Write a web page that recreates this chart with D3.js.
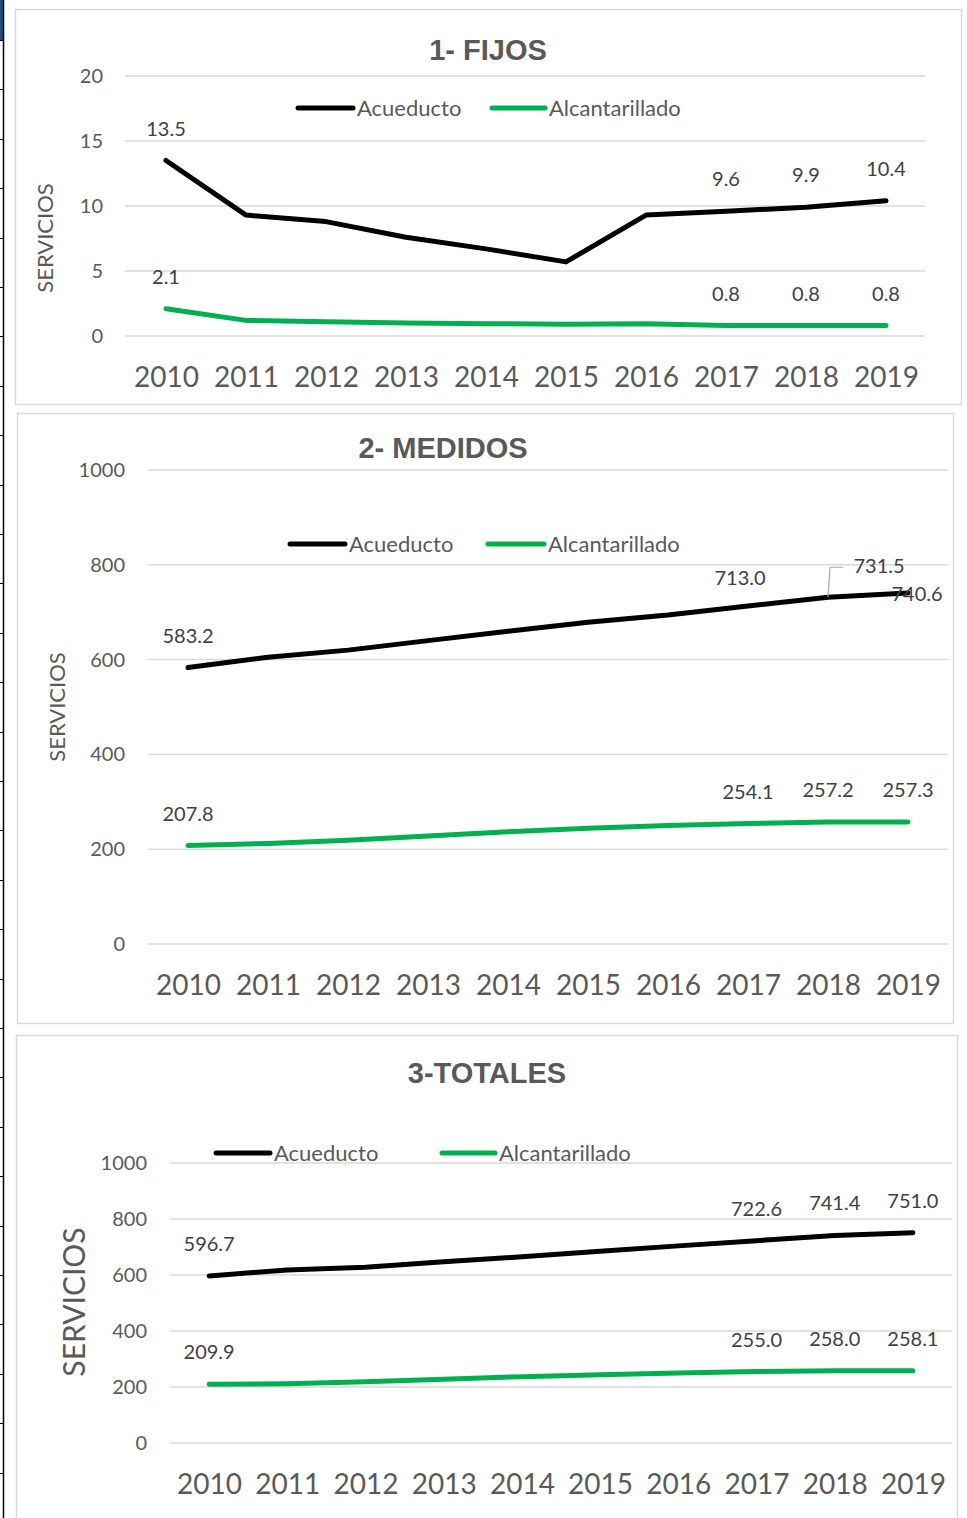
<!DOCTYPE html>
<html>
<head>
<meta charset="utf-8">
<script src="https://cdn.jsdelivr.net/npm/d3@7"></script>
<style>
  body { margin: 0; background: #fff; }
  svg { display: block; }
  text { font-family: Lato, "Noto Sans", sans-serif; }
  text.title { font-family: "Liberation Sans", Arial, sans-serif; font-weight: bold; }
</style>
</head>
<body>
<svg id="chart" width="967" height="1518"></svg>
<script>
// ---- data ----
var years = ['2010', '2011', '2012', '2013', '2014', '2015', '2016', '2017', '2018', '2019'];
var seriesNames = ['Acueducto', 'Alcantarillado'];
var seriesColors = ['#000000', '#00b050'];

var fijosAcueducto = [13.5, 9.3, 8.8, 7.6, 6.7, 5.7, 9.3, 9.6, 9.9, 10.4];
var fijosAlcantarillado = [2.1, 1.2, 1.1, 1.0, 0.95, 0.9, 0.95, 0.8, 0.8, 0.8];
var medidosAcueducto = [583.2, 605, 620, 640, 660, 679, 694, 713.0, 731.5, 740.6];
var medidosAlcantarillado = [207.8, 212, 219, 228, 237, 244, 250, 254.1, 257.2, 257.3];
var totalesAcueducto = [596.7, 618, 628, 647, 665, 685, 704, 722.6, 741.4, 751.0];
var totalesAlcantarillado = [209.9, 212, 219, 228, 237, 244, 250, 255.0, 258.0, 258.1];

var fijosTicks = [0, 5, 10, 15, 20];
var bigTicks = [0, 200, 400, 600, 800, 1000];
var labelled = [0, 7, 8, 9]; // points that carry a data label

var svg = d3.select('#chart');

// spreadsheet edge on the far left
svg.append('rect').attr('x', 0).attr('y', 0).attr('width', 3).attr('height', 40).attr('fill', '#1f4e79');
svg.append('line').attr('x1', 3.5).attr('x2', 3.5).attr('y1', 0).attr('y2', 1518)
    .attr('stroke', '#000').attr('stroke-width', 1.5);
d3.range(40, 1518, 49.4).forEach(function (y) {
    svg.append('line').attr('x1', 0).attr('x2', 3).attr('y1', Math.round(y) + 0.5).attr('y2', Math.round(y) + 0.5)
        .attr('stroke', '#000').attr('stroke-width', 1);
});

var panels = [
    {
        title: '1- FIJOS', titleX: 488, titleY: 60,
        box: [15, 9, 961, 404],
        xRange: [126, 926], gridX: [125, 925],
        yDomain: [0, 20], yRange: [336, 76], ticks: fijosTicks, tickX: 103,
        axisTitleX: 45, axisTitleY: 238, axisTitleSize: 22,
        legendY: 108, legend: [[298, 353], [492, 545]],
        series: [fijosAcueducto, fijosAlcantarillado]
    },
    {
        title: '2- MEDIDOS', titleX: 443, titleY: 458,
        box: [17, 413, 953, 1023],
        xRange: [148, 948], gridX: [148, 948],
        yDomain: [0, 1000], yRange: [944, 470], ticks: bigTicks, tickX: 125,
        axisTitleX: 57, axisTitleY: 707, axisTitleSize: 22,
        legendY: 544, legend: [[290, 345], [488, 544]],
        series: [medidosAcueducto, medidosAlcantarillado],
        // labels that Excel moved off the default spot
        special: {
            '0-7': { dx: -8, dy: -21 },
            '0-8': { dx: 51, dy: -24, leader: true },
            '0-9': { dx: 9, dy: 8 }
        }
    },
    {
        title: '3-TOTALES', titleX: 487, titleY: 1083,
        box: [16, 1035, 957, 1522],
        xRange: [170, 952], gridX: [170, 952],
        yDomain: [0, 1000], yRange: [1443, 1163], ticks: bigTicks, tickX: 147,
        axisTitleX: 74, axisTitleY: 1302, axisTitleSize: 30,
        legendY: 1153, legend: [[216, 270], [442, 495]],
        series: [totalesAcueducto, totalesAlcantarillado]
    }
];

var fmt = d3.format('.1f');

panels.forEach(function (p) {
    var g = svg.append('g');

    g.append('rect')
        .attr('x', p.box[0] + 0.5).attr('y', p.box[1] + 0.5)
        .attr('width', p.box[2] - p.box[0]).attr('height', p.box[3] - p.box[1])
        .attr('fill', '#fff').attr('stroke', '#d9d9d9').attr('stroke-width', 1.5);

    var x = d3.scalePoint().domain(years).range(p.xRange).padding(0.5);
    var y = d3.scaleLinear().domain(p.yDomain).range(p.yRange);

    // gridlines
    g.selectAll('.grid').data(p.ticks).enter().append('line')
        .attr('x1', p.gridX[0]).attr('x2', p.gridX[1])
        .attr('y1', function (d) { return y(d); }).attr('y2', function (d) { return y(d); })
        .attr('stroke', '#d9d9d9').attr('stroke-width', 1.5);

    // y axis labels
    var yAxis = d3.axisLeft(y).tickValues(p.ticks).tickFormat(d3.format('d')).tickSize(0).tickPadding(0);
    var ya = g.append('g').attr('transform', 'translate(' + p.tickX + ',0)').call(yAxis);
    ya.select('.domain').remove();
    ya.selectAll('text').attr('font-size', 20).attr('fill', '#595959')
        .attr('font-family', 'Lato, sans-serif');

    // x axis labels
    var xAxis = d3.axisBottom(x).tickSize(0).tickPadding(0);
    var xa = g.append('g').attr('transform', 'translate(0,' + (y(0) + 31) + ')').call(xAxis);
    xa.select('.domain').remove();
    xa.selectAll('text').attr('font-size', 28).attr('fill', '#595959')
        .attr('font-family', 'Lato, sans-serif');

    // title
    g.append('text').attr('class', 'title').text(p.title)
        .attr('x', p.titleX).attr('y', p.titleY)
        .attr('text-anchor', 'middle')
        .attr('font-size', 29).attr('fill', '#595959');

    // axis title
    g.append('text').text('SERVICIOS')
        .attr('transform', 'translate(' + p.axisTitleX + ',' + p.axisTitleY + ') rotate(-90)')
        .attr('text-anchor', 'middle').attr('dy', '0.35em')
        .attr('font-size', p.axisTitleSize).attr('fill', '#595959');

    // legend
    p.legend.forEach(function (seg, i) {
        g.append('line')
            .attr('x1', seg[0]).attr('x2', seg[1])
            .attr('y1', p.legendY).attr('y2', p.legendY)
            .attr('stroke', seriesColors[i]).attr('stroke-width', 5)
            .attr('stroke-linecap', 'round');
        g.append('text').text(seriesNames[i])
            .attr('x', seg[1] + 4).attr('y', p.legendY).attr('dy', '0.35em')
            .attr('font-size', 22).attr('fill', '#595959');
    });

    // lines
    var line = d3.line()
        .x(function (d, i) { return x(years[i]); })
        .y(function (d) { return y(d); });

    p.series.forEach(function (vals, si) {
        g.append('path').datum(vals)
            .attr('d', line)
            .attr('fill', 'none')
            .attr('stroke', seriesColors[si]).attr('stroke-width', 5)
            .attr('stroke-linejoin', 'round').attr('stroke-linecap', 'round');
    });

    // data labels
    p.series.forEach(function (vals, si) {
        labelled.forEach(function (i) {
            var px = x(years[i]);
            var py = y(vals[i]);
            var sp = p.special && p.special[si + '-' + i];
            var lx = px + (sp ? sp.dx : 0);
            var ly = py + (sp ? sp.dy : -25);
            if (sp && sp.leader) {
                g.append('polyline')
                    .attr('points', [[px, py], [px + 2, ly - 6], [px + 15, ly - 6]].join(' '))
                    .attr('fill', 'none').attr('stroke', '#a6a6a6').attr('stroke-width', 1.2);
            }
            g.append('text').text(fmt(vals[i]))
                .attr('x', lx).attr('y', ly)
                .attr('text-anchor', 'middle')
                .attr('font-size', 20).attr('fill', '#404040');
        });
    });
});
</script>
</body>
</html>
